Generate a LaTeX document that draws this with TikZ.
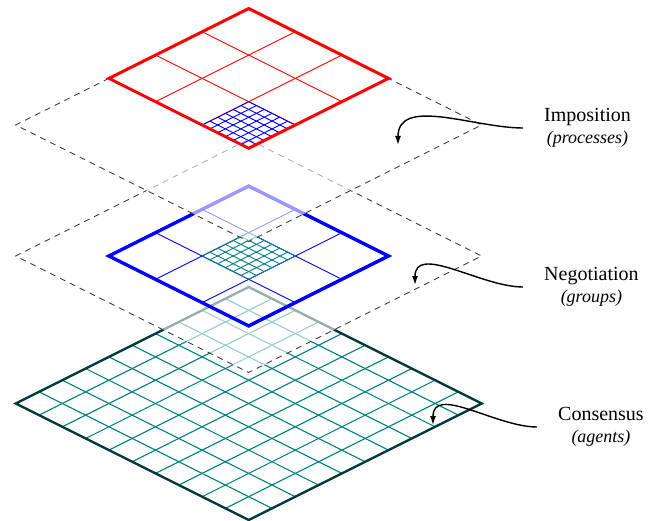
\documentclass[tikz,border=0pt]{standalone}
\usepackage{fontspec}
\setmainfont{Liberation Serif}
\usetikzlibrary{arrows.meta}

\begin{document}
\begin{tikzpicture}[x=1pt,y=-1pt,
  plane/.style={x={(233pt,-116.5pt)},y={(-233pt,-116.5pt)}},
  haze/.style={fill=white,fill opacity=0.6},
  planeedge/.style={draw=black!75,line width=0.9pt,dash pattern=on 6pt off 5pt},
  agentline/.style={draw=teal,line width=1.1pt},
  agentedge/.style={draw=teal!45!black,line width=2.4pt},
  groupline/.style={draw=blue,line width=0.9pt},
  groupedge/.style={draw=blue,line width=3.4pt},
  procline/.style={draw=red,line width=0.9pt},
  procedge/.style={draw=red,line width=3pt},
  fineteal/.style={draw=teal,line width=0.9pt},
  fineblue/.style={draw=blue,line width=0.9pt},
  lbl/.style={align=center,inner xsep=21pt,inner ysep=0pt,font=\fontsize{20}{22}\selectfont},
  sublbl/.style={},
  callout/.style={draw=black,line width=1.4pt,-{Latex[length=9pt,width=6pt]}}]
\useasboundingbox (0,0) rectangle (658,521);

% agents: the full 10 x 10 lattice
\begin{scope}[shift={(248.7pt,-287pt)},plane]
  \foreach \i in {1,...,9} {
    \draw[agentline] (\i/10,0) -- (\i/10,1);
    \draw[agentline] (0,\i/10) -- (1,\i/10);
  }
  \draw[agentedge] (0,0) -- (1,0) -- (1,1) -- (0,1) -- cycle;
\end{scope}

% groups: translucent plane, 3 x 3 block, refined centre cell
\begin{scope}[shift={(248.7pt,-139.5pt)},plane]
  \fill[haze] (0,0) -- (1,0) -- (1,1) -- (0,1) -- cycle;
  \draw[planeedge] (0,0) -- (1,0) -- (1,1) -- (0,1) -- cycle;
  \foreach \p in {0.4,0.6} {
    \draw[groupline] (\p,0.2) -- (\p,0.8);
    \draw[groupline] (0.2,\p) -- (0.8,\p);
  }
  \foreach \k in {0,...,6} {
    \draw[fineteal] (0.4+\k/30,0.4) -- (0.4+\k/30,0.6);
    \draw[fineteal] (0.4,0.4+\k/30) -- (0.6,0.4+\k/30);
  }
  \draw[groupedge] (0.2,0.2) -- (0.8,0.2) -- (0.8,0.8) -- (0.2,0.8) -- cycle;
\end{scope}

% processes: translucent plane, 3 x 3 block in the back corner, refined front cell
\begin{scope}[shift={(248.7pt,-8.5pt)},plane]
  \fill[haze] (0,0) -- (1,0) -- (1,1) -- (0,1) -- cycle;
  \draw[planeedge] (0,0) -- (1,0) -- (1,1) -- (0,1) -- cycle;
  \foreach \p in {0.2,0.4} {
    \draw[procline] (\p,0) -- (\p,0.6);
    \draw[procline] (0,\p) -- (0.6,\p);
  }
  \foreach \k in {0,...,6} {
    \draw[fineblue] (0.4+\k/30,0.4) -- (0.4+\k/30,0.6);
    \draw[fineblue] (0.4,0.4+\k/30) -- (0.6,0.4+\k/30);
  }
  \draw[procedge] (0,0) -- (0.6,0) -- (0.6,0.6) -- (0,0.6) -- cycle;
\end{scope}

% labels
\node[lbl,anchor=west] (imp) at (523,128) {Imposition\\{\fontsize{18}{22}\selectfont\itshape (processes)}};
\node[lbl,anchor=west] (neg) at (523,287) {Negotiation\\{\fontsize{18}{22}\selectfont\itshape (groups)}};
\node[lbl,anchor=west] (con) at (537,427) {Consensus\\{\fontsize{18}{22}\selectfont\itshape (agents)}};

% arrow targets on the planes
\coordinate (imptip) at (398,145);
\coordinate (negtip) at (415,285);
\coordinate (contip) at (433,425);

\draw[callout] (imp.west) .. controls (474,128) and (398,96) .. (imptip);
\draw[callout] (neg.west) .. controls (481,287) and (415,243) .. (negtip);
\draw[callout] (con.west) .. controls (496,427) and (433,384) .. (contip);
\end{tikzpicture}
\end{document}
